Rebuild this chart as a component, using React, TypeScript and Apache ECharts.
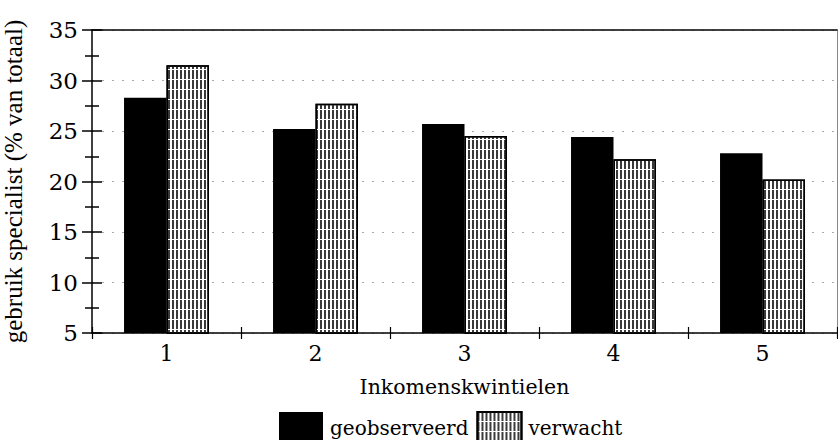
import React, { useEffect, useRef } from "react";
import * as echarts from "echarts";

const categories = ["1", "2", "3", "4", "5"];
const geobserveerd = [28.3, 25.2, 25.7, 24.4, 22.8];
const verwacht = [31.5, 27.7, 24.5, 22.2, 20.2];
const yTitle = "gebruik specialist (% van totaal)";
const xTitle = "Inkomenskwintielen";

export default function App() {
  const ref = useRef<HTMLDivElement>(null);
  useEffect(() => {
    if (!ref.current) return;
    const chart = echarts.init(ref.current, null, { renderer: "svg" });
    const font = "DejaVu Serif";
    const yBase = { type: "value", min: 5, max: 35, interval: 5 };
    chart.setOption({
      animation: false,
      backgroundColor: "#fff",
      grid: { left: 92, right: 1, top: 30, bottom: 107, containLabel: false, outerBoundsMode: "none" },
      legend: {
        left: 274,
        top: 406,
        itemWidth: 44,
        itemHeight: 31,
        itemGap: 8,
        icon: "rect",
        textStyle: { fontFamily: font, fontSize: 20, color: "#000", padding: [0, 0, 0, 2] },
        data: ["geobserveerd", "verwacht"],
      },
      xAxis: [
        {
          type: "category",
          data: categories,
          position: "bottom",
          axisLine: { lineStyle: { color: "#000", width: 1.5 } },
          axisTick: { show: true, length: 6, lineStyle: { color: "#000", width: 1.2 } },
          axisLabel: { fontFamily: font, fontSize: 22, color: "#000", margin: 9 },
          name: xTitle,
          nameLocation: "middle",
          nameGap: 43,
          nameTextStyle: { fontFamily: font, fontSize: 20.5, color: "#000" },
        },
        {
          type: "category",
          data: categories,
          position: "bottom",
          axisLine: { show: false },
          axisTick: { show: true, inside: true, length: 6, lineStyle: { color: "#000", width: 1.2 } },
          axisLabel: { show: false },
        },
        {
          type: "category",
          data: categories,
          position: "top",
          axisLine: { lineStyle: { color: "#000", width: 1.5 } },
          axisTick: { show: false },
          axisLabel: { show: false },
        },
      ],
      yAxis: [
        {
          ...yBase,
          position: "left",
          axisLine: { show: true, lineStyle: { color: "#000", width: 1.5 } },
          axisTick: { show: true, length: 10, lineStyle: { color: "#000", width: 1.5 } },
          minorTick: { show: true, splitNumber: 2, length: 7, lineStyle: { color: "#000", width: 1.5 } },
          axisLabel: { fontFamily: font, fontSize: 23, color: "#000", margin: 14 },
          splitLine: { show: true, lineStyle: { color: "#aaa", type: [2, 8], width: 1 } },
          name: yTitle,
          nameLocation: "middle",
          nameGap: 66,
          nameTextStyle: { fontFamily: "Liberation Serif", fontSize: 25, color: "#000" },
        },
        {
          ...yBase,
          position: "left",
          axisLine: { show: false },
          axisTick: { show: true, inside: true, length: 10, lineStyle: { color: "#000", width: 1.5 } },
          minorTick: { show: true, splitNumber: 2, length: 7, lineStyle: { color: "#000", width: 1.5 } },
          axisLabel: { show: false },
          splitLine: { show: false },
        },
        {
          ...yBase,
          position: "right",
          axisLine: { show: true, lineStyle: { color: "#888", width: 1 } },
          axisTick: { show: false },
          axisLabel: { show: false },
          splitLine: { show: false },
        },
      ],
      series: [
        {
          name: "geobserveerd",
          type: "bar",
          data: geobserveerd,
          barWidth: "28.5%",
          barGap: "0%",
          itemStyle: { color: "#000" },
        },
        {
          name: "verwacht",
          type: "bar",
          data: verwacht,
          barWidth: "28.5%",
          barGap: "0%",
          itemStyle: {
            color: "#fff",
            borderColor: "#000",
            borderWidth: 1.5,
            decal: {
              symbol: "rect",
              symbolSize: 1,
              dashArrayX: [1.5, 1.5],
              dashArrayY: [9, 1],
              rotation: 0,
              color: "#3a3a3a",
            },
          },
        },
      ],
    });
    return () => chart.dispose();
  }, []);
  return <div ref={ref} style={{ width: 838, height: 440, position: "absolute", left: 0, top: 0 }} />;
}
